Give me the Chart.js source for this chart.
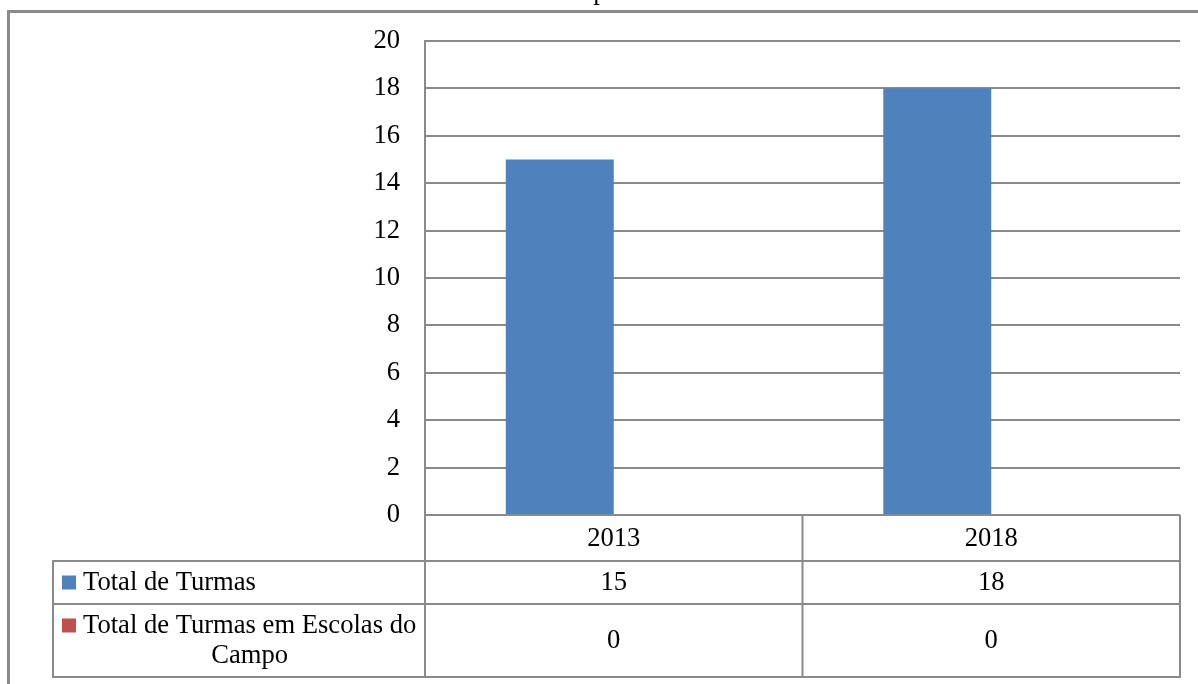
<!DOCTYPE html>
<html>
<head>
<meta charset="utf-8">
<script src="https://cdn.jsdelivr.net/npm/chart.js@4.4.1/dist/chart.umd.min.js"></script>
<style>
  html, body { margin: 0; padding: 0; background: #fff; }
  #wrap { width: 1198px; height: 684px; }
</style>
</head>
<body>
<div id="wrap"><canvas id="c" width="1198" height="684"></canvas></div>
<script>
// Categories and series
const categories = ['2013', '2018'];
const seriesNames = ['Total de Turmas', 'Total de Turmas em Escolas do Campo'];
const totalTurmas = [15, 18];
const turmasCampo = [0, 0];
const seriesColors = ['#4F81BD', '#C0504D'];
const titleText = 'p';

const FONT = '"Liberation Serif", "Times New Roman", serif';
const FONT_SIZE = 26.6;
const LINE = '#8a8a8a';

function wrapText(ctx, text, maxWidth) {
  const words = text.split(' ');
  const lines = [];
  let cur = '';
  for (const w of words) {
    const t = cur ? cur + ' ' + w : w;
    if (ctx.measureText(t).width > maxWidth && cur) { lines.push(cur); cur = w; }
    else cur = t;
  }
  if (cur) lines.push(cur);
  return lines;
}

// Frame, clipped title and the data table under the plot
const dataTable = {
  id: 'dataTable',
  beforeDraw(chart) {
    const ctx = chart.ctx;
    ctx.save();
    ctx.fillStyle = '#fff';
    ctx.fillRect(0, 0, chart.width, chart.height);
    ctx.strokeStyle = LINE;
    ctx.lineWidth = 3;
    ctx.beginPath();
    ctx.moveTo(8.5, chart.height + 5);
    ctx.lineTo(8.5, 11.5);
    ctx.lineTo(chart.width + 5, 11.5);
    ctx.stroke();
    ctx.fillStyle = '#000';
    ctx.font = FONT_SIZE + 'px ' + FONT;
    ctx.textAlign = 'center';
    ctx.textBaseline = 'alphabetic';
    ctx.fillText(titleText, 600, -1);
    ctx.restore();
  },
  afterDraw(chart) {
    const ctx = chart.ctx;
    const area = chart.chartArea;
    const xs = chart.scales.x;
    const top = area.bottom;
    const rowEdges = [top, top + 46, top + 89, top + 162];
    const labelLeft = 53;
    const centers = categories.map((_, i) => xs.getPixelForValue(i));
    const splits = [area.left];
    for (let i = 0; i < centers.length - 1; i++) splits.push((centers[i] + centers[i + 1]) / 2);
    splits.push(area.right);

    ctx.save();
    ctx.strokeStyle = LINE;
    ctx.lineWidth = 2;
    ctx.beginPath();
    // horizontal rules
    for (let r = 1; r < rowEdges.length; r++) {
      ctx.moveTo(labelLeft, rowEdges[r]);
      ctx.lineTo(area.right, rowEdges[r]);
    }
    // column rules
    ctx.moveTo(area.left, area.bottom);
    ctx.lineTo(area.left, rowEdges[3] + 1);
    for (let i = 1; i < splits.length; i++) {
      ctx.moveTo(splits[i], rowEdges[0]);
      ctx.lineTo(splits[i], rowEdges[3] + 1);
    }
    ctx.moveTo(labelLeft, rowEdges[1] - 1);
    ctx.lineTo(labelLeft, rowEdges[3] + 1);
    ctx.stroke();

    ctx.fillStyle = '#000';
    ctx.font = FONT_SIZE + 'px ' + FONT;
    ctx.textAlign = 'center';
    ctx.textBaseline = 'middle';
    // category header
    categories.forEach((c, i) => ctx.fillText(c, centers[i], (rowEdges[0] + rowEdges[1]) / 2 + 1));

    const seriesValues = [totalTurmas, turmasCampo];
    seriesValues.forEach((vals, s) => {
      const y0 = rowEdges[s + 1], y1 = rowEdges[s + 2];
      const mid = (y0 + y1) / 2;
      vals.forEach((v, i) => { ctx.fillStyle = '#000'; ctx.fillText(String(v), centers[i], mid + 1); });
      // row label with legend key
      const textLeft = labelLeft + 30;
      const lines = wrapText(ctx, seriesNames[s], area.left - textLeft - 2);
      const lh = 30;
      const maxW = Math.max(...lines.map(l => ctx.measureText(l).width));
      const cx = textLeft + maxW / 2;
      const firstY = mid - (lines.length - 1) * lh / 2;
      ctx.fillStyle = '#000';
      lines.forEach((l, k) => ctx.fillText(l, cx, firstY + k * lh + 1));
      ctx.fillStyle = seriesColors[s];
      ctx.fillRect(labelLeft + 9, firstY - 7, 14, 14);
    });
    ctx.restore();
  }
};

new Chart(document.getElementById('c'), {
  type: 'bar',
  data: {
    labels: categories,
    datasets: [
      { label: seriesNames[0], data: totalTurmas, backgroundColor: seriesColors[0], borderWidth: 0 },
      { label: seriesNames[1], data: turmasCampo, backgroundColor: seriesColors[1], borderWidth: 0 }
    ]
  },
  options: {
    responsive: false,
    devicePixelRatio: 1,
    animation: false,
    layout: { padding: { left: 0, right: 18, top: 40, bottom: 169 } },
    datasets: { bar: { categoryPercentage: 0.572, barPercentage: 1.0 } },
    plugins: { legend: { display: false }, tooltip: { enabled: false }, title: { display: false } },
    scales: {
      x: { display: false },
      y: {
        min: 0, max: 20,
        afterFit(scale) { scale.width = 425; },
        ticks: { stepSize: 2, padding: 25, color: '#000', font: { family: FONT, size: FONT_SIZE } },
        grid: { color: LINE, lineWidth: 2, drawTicks: false, tickLength: 0 },
        border: { display: true, color: LINE, width: 2 }
      }
    }
  },
  plugins: [dataTable]
});
</script>
</body>
</html>
